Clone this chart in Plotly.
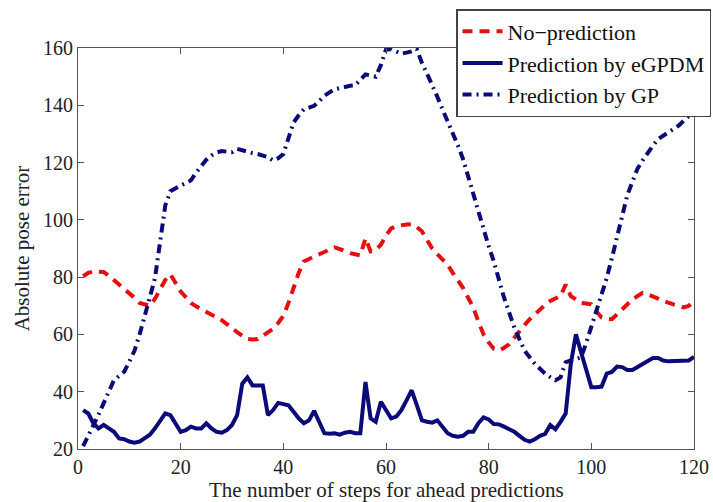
import plotly.graph_objects as go

# Steps ahead (1..120)
steps = list(range(1, 121))

# Absolute pose error without prediction
no_prediction = [
    80.3, 81.5, 82.0, 82.0, 81.8, 80.5, 79.0, 77.4, 76.0, 74.6,
    72.8, 71.0, 70.4, 70.0, 72.5, 75.7, 79.0, 81.0, 78.0, 75.0,
    73.0, 71.0, 69.8, 68.8, 68.0, 67.0, 66.0, 65.0, 63.6, 62.4,
    60.8, 59.5, 58.4, 58.2, 58.4, 59.5, 60.8, 62.0, 64.0, 66.5,
    71.0, 76.3, 81.5, 85.5, 86.5, 87.2, 88.0, 88.8, 89.6, 90.4,
    89.8, 89.0, 88.4, 88.0, 87.6, 93.6, 89.0, 89.5, 91.3, 94.5,
    97.0, 97.8, 98.2, 98.4, 98.5, 97.5, 96.0, 93.0, 90.0, 88.0,
    86.2, 84.4, 81.5, 79.0, 76.3, 72.8, 69.4, 64.5, 60.0, 57.2,
    55.0, 54.4, 55.3, 56.6, 59.0, 61.3, 63.3, 65.3, 67.0, 68.8,
    70.3, 71.7, 72.6, 73.4, 77.4, 73.4, 72.2, 71.0, 70.8, 70.5,
    68.0, 65.9, 65.5, 65.3, 67.0, 68.8, 70.5, 72.2, 73.4, 74.5,
    74.0, 73.4, 72.5, 71.7, 71.0, 70.5, 70.0, 69.4, 70.0, 71.7,
]

# Absolute pose error with eGPDM prediction
egpdm = [
    33.6, 32.4, 29.0, 27.2, 28.4, 27.2, 26.0, 23.7, 23.4, 22.6,
    22.2, 22.6, 23.7, 25.0, 27.2, 30.0, 32.4, 31.8, 29.0, 26.0,
    26.6, 27.8, 27.2, 27.2, 29.0, 27.2, 26.0, 25.7, 26.6, 28.4,
    31.8, 42.8, 45.0, 42.2, 42.2, 42.2, 31.8, 33.6, 36.1, 35.7,
    35.3, 33.0, 30.7, 29.0, 30.0, 33.3, 29.5, 25.5, 25.3, 25.5,
    25.0, 25.7, 26.0, 25.5, 25.5, 43.4, 30.7, 29.5, 36.5, 33.6,
    30.7, 31.3, 33.6, 37.0, 40.5, 35.3, 30.0, 29.5, 29.2, 30.0,
    27.8, 25.5, 24.6, 24.3, 24.6, 26.0, 26.0, 29.0, 31.0, 30.3,
    28.7, 28.6, 27.8, 26.9, 26.0, 24.6, 23.2, 22.6, 23.4, 24.6,
    25.3, 28.4, 26.9, 29.5, 32.4, 49.7, 60.0, 53.8, 47.4, 41.6,
    41.6, 41.8, 46.3, 46.9, 48.8, 48.6, 47.6, 47.6, 48.6, 49.7,
    50.9, 51.8, 51.8, 50.9, 50.6, 50.6, 50.6, 50.9, 50.9, 52.2,
]

# Absolute pose error with GP prediction
gp = [
    21.0, 24.5, 27.8, 32.0, 36.0, 40.0, 44.0, 45.5, 47.0, 50.5,
    54.3, 60.0, 66.0, 73.0, 79.7, 93.6, 105.0, 110.0, 111.2, 112.0,
    112.8, 113.8, 116.5, 119.0, 121.0, 122.5, 123.5, 124.0, 123.8, 123.6,
    124.8, 124.2, 123.6, 123.3, 123.0, 122.4, 121.9, 120.7, 121.5, 123.0,
    128.5, 134.0, 136.5, 138.6, 139.2, 139.8, 141.5, 143.3, 144.5, 145.6,
    146.0, 146.5, 146.8, 147.0, 149.0, 150.8, 150.4, 150.0, 154.0, 159.5,
    159.6, 158.8, 158.0, 158.4, 158.8, 159.6, 154.8, 151.0, 147.3, 143.0,
    138.6, 134.6, 130.6, 126.0, 121.3, 115.0, 108.6, 102.3, 96.0, 90.8,
    85.5, 79.0, 72.8, 67.6, 62.4, 58.3, 54.3, 52.0, 49.7, 48.0,
    46.3, 45.1, 44.0, 45.0, 50.3, 50.9, 51.4, 52.0, 57.0, 62.4,
    68.8, 74.3, 79.7, 86.6, 93.6, 101.1, 108.6, 113.3, 117.9, 120.8,
    123.6, 125.9, 128.2, 129.4, 130.5, 131.7, 132.9, 134.6, 136.3, 139.8,
]

x_ticks = [0, 20, 40, 60, 80, 100, 120]
y_ticks = [20, 40, 60, 80, 100, 120, 140, 160]

x_title = "The number of steps for ahead predictions"
y_title = "Absolute pose error"

RED = "#e41010"
NAVY = "#0a0a78"
FONT = "Liberation Serif"

W, H = 713, 502
M_L, M_R, M_T, M_B = 78, 19, 48, 53

fig = go.Figure()
fig.add_trace(go.Scatter(
    x=steps, y=no_prediction, mode="lines", name="No\u2212prediction",
    line=dict(color=RED, width=4, dash="10px,7px"),
))
fig.add_trace(go.Scatter(
    x=steps, y=egpdm, mode="lines", name="Prediction by eGPDM",
    line=dict(color=NAVY, width=4),
))
fig.add_trace(go.Scatter(
    x=steps, y=gp, mode="lines", name="Prediction by GP",
    line=dict(color=NAVY, width=4, dash="9px,5px,2px,5px"),
))

axis_common = dict(
    showgrid=False, zeroline=False, showline=True, linecolor="#555555",
    linewidth=1.2, mirror="allticks", ticks="inside", ticklen=6,
    tickcolor="#555555", tickwidth=1,
    tickfont=dict(family=FONT, size=20, color="#222222"),
)

fig.update_xaxes(
    range=[0, 120], tickvals=x_ticks, ticktext=[str(v) for v in x_ticks],
    **axis_common,
)
fig.update_yaxes(
    range=[20, 160], tickvals=y_ticks, ticktext=[str(v) for v in y_ticks],
    title=dict(text=y_title,
               font=dict(family=FONT, size=21, color="#222222"), standoff=7),
    **axis_common,
)

# x-axis title sits on the bottom edge of the figure, below the tick labels
plot_h = H - M_T - M_B
fig.add_annotation(
    text=x_title, xref="paper", yref="paper",
    x=0.5, y=-M_B / plot_h, xanchor="center", yanchor="bottom",
    yshift=-1, borderpad=0,
    showarrow=False, font=dict(family=FONT, size=21, color="#222222"),
)

fig.update_layout(
    width=W, height=H,
    margin=dict(l=M_L, r=M_R, t=M_T, b=M_B, autoexpand=False),
    paper_bgcolor="white", plot_bgcolor="white",
    showlegend=True,
    legend=dict(
        xref="container", yref="container",
        x=0.6396, y=0.982, xanchor="left", yanchor="top",
        bgcolor="white", bordercolor="#444444", borderwidth=1.5,
        font=dict(family=FONT, size=22, color="#111111"),
        tracegroupgap=0, itemwidth=40,
    ),
)

fig.write_html("out.html")
